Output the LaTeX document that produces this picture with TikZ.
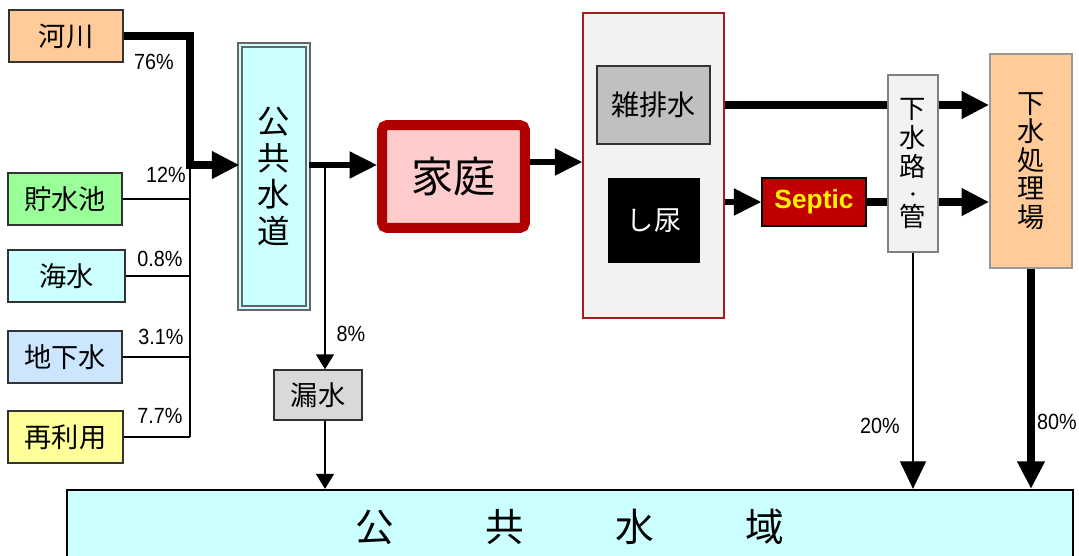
\documentclass[tikz,border=0pt]{standalone}
\usepackage{fontspec}
\setmainfont{Liberation Sans}
\newfontfamily\jp{Noto Sans CJK JP}
\newfontfamily\pctfont[FakeStretch=0.9]{Liberation Sans}
\usetikzlibrary{arrows.meta}
\definecolor{RiverOrange}{HTML}{FFCC99}
\definecolor{PondGreen}{HTML}{99FF99}
\definecolor{SeaCyan}{HTML}{CCFFFF}
\definecolor{GroundBlue}{HTML}{CCE6FF}
\definecolor{ReuseYellow}{HTML}{FFFF99}
\definecolor{HomeRed}{HTML}{B00000}
\definecolor{HomePink}{HTML}{FFCCCC}
\definecolor{PanelGrey}{HTML}{F2F2F2}
\definecolor{PanelRed}{HTML}{A51C1C}
\definecolor{GreyWater}{HTML}{C0C0C0}
\definecolor{SepticRed}{HTML}{C00000}
\definecolor{LeakGrey}{HTML}{D9D9D9}

\begin{document}
\begin{tikzpicture}[
    x=0.02cm, y=-0.02cm,
    src/.style={rectangle, draw=black!80, line width=0.8pt, minimum width=2.28cm, minimum height=1.04cm, font=\jp\fontsize{15.5}{18}\selectfont},
    tall/.style={rectangle, align=center, inner sep=0pt},
    pct/.style={inner sep=0pt, font=\pctfont\fontsize{12.5}{14}\selectfont},
    thinline/.style={line width=0.85pt},
    midline/.style={line width=3pt},
    heavyline/.style={line width=4.5pt},
    feed/.style={-{Triangle[length=0.55cm, width=0.52cm]}},
    drip/.style={-{Triangle[length=0.3cm, width=0.36cm]}}
  ]
    \useasboundingbox (0,0) rectangle (1079,555);
    \clip (0,0) rectangle (1079,555);

    % Nodes
    \node (kasen) [src, fill=RiverOrange] at (66,36) {河川};
    \node (chosuichi) [src, fill=PondGreen] at (65,199) {貯水池};
    \node (kaisui) [src, fill=SeaCyan, minimum width=2.34cm] at (66.5,276) {海水};
    \node (chikasui) [src, fill=GroundBlue] at (65,357) {地下水};
    \node (saiyou) [src, fill=ReuseYellow, minimum width=2.3cm] at (65.5,437) {再利用};

    \node (suido) [tall, draw=black!60, line width=0.7pt, double=SeaCyan, double distance=1.6pt, fill=SeaCyan, minimum width=1.36cm, minimum height=5.26cm, font=\jp\fontsize{18.5}{21}\selectfont] at (274,176.5) {公\\共\\水\\道};
    \node (rousui) [src, fill=LeakGrey, minimum width=1.76cm, minimum height=1.0cm] at (318,395) {漏水};

    \node (katei) [rectangle, draw=HomeRed, fill=HomePink, line width=0.2cm, rounded corners=3pt, minimum width=2.86cm, minimum height=2.06cm, font=\jp\fontsize{24}{28}\selectfont] at (453.5,176.5) {家庭};

    \node (haisui) [rectangle, draw=PanelRed, fill=PanelGrey, line width=0.8pt, minimum width=2.82cm, minimum height=6.1cm] at (653.5,165.5) {};
    \node (zatsu) [src, fill=GreyWater, minimum width=2.26cm, minimum height=1.56cm, font=\jp\fontsize{16}{18}\selectfont] at (653.5,105) {雑排水};
    \node (shinyou) [rectangle, fill=black, text=white, minimum width=1.84cm, minimum height=1.7cm, font=\jp\fontsize{15.5}{18}\selectfont] at (654,220.5) {し尿};
    \node (septic) [rectangle, draw=black, line width=0.8pt, fill=SepticRed, text=yellow, minimum width=2.08cm, minimum height=0.96cm, font=\bfseries\fontsize{15}{18}\selectfont] at (814,202) {Septic};

    \node (gesuiro) [tall, draw=black!50, fill=PanelGrey, line width=0.8pt, minimum width=1.0cm, minimum height=3.54cm, font=\jp\fontsize{15}{16.5}\selectfont] at (913,163.5) {下\\水\\路\\[-3pt]{\fontsize{9}{9}\selectfont ・}\\[-2pt]管};
    \node (shorijo) [tall, draw=black!40, fill=RiverOrange, line width=1pt, minimum width=1.64cm, minimum height=4.28cm, font=\jp\fontsize{15.5}{16.2}\selectfont] at (1031,161) {下\\水\\処\\理\\場};

    \node (suiiki) [rectangle, draw=black, fill=SeaCyan, line width=1.3pt, minimum width=20.12cm, minimum height=1.48cm, font=\jp\fontsize{22}{26}\selectfont] at (570,527) {公\hspace{52pt}共\hspace{52pt}水\hspace{52pt}域};

    % Labels
    \node (p76) [pct] at (154,62) {76\%};
    \node (p12) [pct] at (166,175) {12\%};
    \node (p08) [pct] at (160,259) {0.8\%};
    \node (p31) [pct] at (161,337) {3.1\%};
    \node (p77) [pct] at (160,416) {7.7\%};
    \node (p8) [pct] at (351,334) {8\%};
    \node (p20) [pct] at (880,426) {20\%};
    \node (p80) [pct] at (1057,422) {80\%};

    % Connectors
    \coordinate (junc) at (190,165);
    \coordinate (leak) at (325,165);
    \coordinate (greyrow) at (0,105);
    \draw [line width=4pt, feed] (kasen.east) -| (junc) -- (suido.west |- junc);
    \draw [thinline] (junc) -- (junc |- saiyou.east);
    \draw [thinline] (chosuichi.east) -- (chosuichi.east -| junc);
    \draw [thinline] (kaisui.east) -- (kaisui.east -| junc);
    \draw [thinline] (chikasui.east) -- (chikasui.east -| junc);
    \draw [thinline] (saiyou.east) -- (saiyou.east -| junc);

    \draw [midline, feed] (suido.east |- junc) -- (katei.west |- junc);
    \draw [thinline, drip] (leak) -- (leak |- rousui.north);
    \draw [thinline, drip] (rousui.south -| leak) -- (leak |- suiiki.north);
    \draw [midline, feed] (katei.east |- 0,162) -- (haisui.west |- 0,162);

    \draw [heavyline] (haisui.east |- greyrow) -- (gesuiro.west |- greyrow);
    \draw [heavyline, feed] (gesuiro.east |- greyrow) -- (shorijo.west |- greyrow);
    \draw [midline, feed] (haisui.east |- septic.west) -- (septic.west);
    \draw [heavyline] (septic.east) -- (gesuiro.west |- septic.east);
    \draw [heavyline, feed] (gesuiro.east |- septic.east) -- (shorijo.west |- septic.east);

    \draw [line width=0.7pt, feed] (gesuiro.south) -- (gesuiro.south |- suiiki.north);
    \draw [heavyline, feed] (shorijo.south) -- (shorijo.south |- suiiki.north);
  \end{tikzpicture}
\end{document}
